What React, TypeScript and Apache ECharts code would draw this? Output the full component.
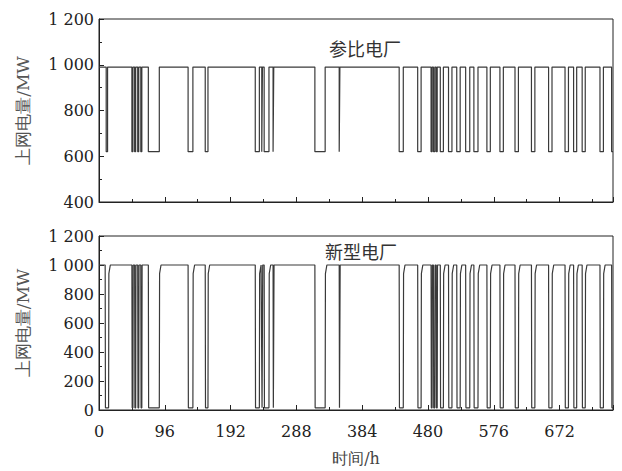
import React, { useEffect, useRef } from "react";
import * as echarts from "echarts";

// Hours axis
const X_MAX = 750;
const X_TICKS = [0, 96, 192, 288, 384, 480, 576, 672];

// Reference plant: output level (MW) when running high / low
const REF_HIGH = 990;
const REF_LOW = 620;
// Low-output intervals [start h, end h]
const refLows: [number, number][] = [
  [10.5, 12.5], [48, 49.5], [52, 53.5], [56.5, 58], [61, 62.5], [72, 88],
  [130, 137], [155, 159], [228, 234], [237.5, 238.5], [241, 248], [254, 255],
  [315, 330], [350.5, 351.5], [438, 444], [465, 470], [484.5, 486], [488, 490],
  [492, 493.5], [498, 502.5], [510, 515], [522, 527], [535, 541], [547, 553],
  [566, 571], [585, 590], [607, 612], [631, 636], [656, 661], [680, 685],
  [692.5, 697], [705, 709.5], [731, 736], [748, 750],
];

// New plant: high / near-zero levels, level reached right after restart
const NEW_HIGH = 1000;
const NEW_LOW = 15;
const NEW_RESTART = 940;
const newLows: [number, number][] = [
  [9, 14], [48, 49.5], [52, 53.5], [56.5, 58], [61, 62.5], [72, 88],
  [130, 137], [155, 159], [228, 234], [237.5, 238.5], [241, 248], [254, 255],
  [315, 330], [350.5, 351.5], [438, 444], [465, 470], [484.5, 486], [488, 490],
  [492, 493.5], [498, 502.5], [510, 515], [522, 527], [535, 541], [547, 553],
  [566, 571], [585, 590], [607, 612], [631, 636], [656, 661], [680, 685],
  [692.5, 697], [705, 709.5], [731, 736], [748, 750],
];

const Y_TOP_TICKS = [400, 600, 800, 1000, 1200];
const Y_BOT_TICKS = [0, 200, 400, 600, 800, 1000, 1200];

function buildRef(): [number, number][] {
  const pts: [number, number][] = [[0, REF_HIGH]];
  for (const [s, e] of refLows) {
    pts.push([s, REF_HIGH], [s, REF_LOW], [e, REF_LOW]);
    if (e < X_MAX) pts.push([e, REF_HIGH]);
  }
  pts.push([X_MAX, pts[pts.length - 1][1]]);
  return pts;
}

function buildNew(): [number, number][] {
  const pts: [number, number][] = [[0, NEW_HIGH]];
  for (const [s, e] of newLows) {
    pts.push([s, NEW_HIGH], [s + 0.4, NEW_LOW], [e, NEW_LOW]);
    if (e < X_MAX) {
      if (e - s > 3) {
        pts.push([e + 0.4, NEW_RESTART], [e + 2.5, NEW_HIGH]);
      } else {
        pts.push([e + 0.4, NEW_HIGH]);
      }
    }
  }
  pts.push([X_MAX, pts[pts.length - 1][1]]);
  return pts;
}

const fmtY = (v: number) =>
  v >= 1000 ? `${Math.floor(v / 1000)} ${String(v % 1000).padStart(3, "0")}` : String(v);

const SERIF = "DejaVu Serif";
const CJK = "Noto Sans CJK SC";
const AX = "#222";

export default function App() {
  const ref = useRef<HTMLDivElement>(null);
  useEffect(() => {
    if (!ref.current) return;
    const chart = echarts.init(ref.current, undefined, { renderer: "svg" });
    const xAxisBase = (idx: number, showLabels: boolean) => ({
      type: "value",
      gridIndex: idx,
      min: 0,
      max: X_MAX,
      interval: 96,
      axisLine: { show: true, onZero: false, lineStyle: { color: AX, width: 1 } },
      axisTick: { show: true, inside: true, length: 5, lineStyle: { color: AX } },
      minorTick: { show: true, splitNumber: 2, length: 3, lineStyle: { color: AX } },
      splitLine: { show: false },
      axisLabel: {
        show: showLabels,
        showMaxLabel: false,
        margin: 13,
        color: AX,
        fontSize: 16,
        fontFamily: SERIF,
        formatter: (v: number) => (X_TICKS.includes(v) ? String(v) : ""),
      },
      name: showLabels ? "时间/h" : "",
      nameLocation: "middle",
      nameGap: 40,
      nameTextStyle: { color: "#444", fontSize: 16, fontFamily: SERIF },
    });
    const yAxisBase = (idx: number, ticks: number[]) => ({
      type: "value",
      gridIndex: idx,
      min: ticks[0],
      max: ticks[ticks.length - 1],
      interval: 200,
      axisLine: { show: true, lineStyle: { color: AX, width: 1 } },
      axisTick: { show: true, inside: true, length: 5, lineStyle: { color: AX } },
      minorTick: { show: true, splitNumber: 2, length: 3, lineStyle: { color: AX } },
      splitLine: { show: false },
      axisLabel: {
        margin: 5,
        color: AX,
        fontSize: 16,
        fontFamily: SERIF,
        formatter: (v: number) => (ticks.includes(v) ? fmtY(v) : ""),
      },
      name: "上网电量/MW",
      nameLocation: "middle",
      nameGap: 68,
      nameTextStyle: { color: "#555", fontSize: 17, fontFamily: SERIF },
    });
    chart.setOption({
      animation: false,
      backgroundColor: "#fff",
      title: [
        {
          text: "参比电厂",
          left: 360,
          top: 34,
          textAlign: "center",
          textStyle: { fontSize: 18, fontWeight: "normal", color: "#333", fontFamily: CJK },
        },
        {
          text: "新型电厂",
          left: 356,
          top: 237,
          textAlign: "center",
          textStyle: { fontSize: 18, fontWeight: "normal", color: "#333", fontFamily: CJK },
        },
      ],
      grid: [
        {
          left: 99, right: 9, top: 19, height: 183, show: true, borderColor: AX, borderWidth: 1,
          outerBoundsMode: "none", containLabel: false,
        },
        {
          left: 99, right: 9, top: 236, height: 174, show: true, borderColor: AX, borderWidth: 1,
          outerBoundsMode: "none", containLabel: false,
        },
      ],
      xAxis: [xAxisBase(0, false), xAxisBase(1, true)],
      yAxis: [yAxisBase(0, Y_TOP_TICKS), yAxisBase(1, Y_BOT_TICKS)],
      series: [
        {
          type: "line",
          xAxisIndex: 0,
          yAxisIndex: 0,
          data: buildRef(),
          showSymbol: false,
          lineStyle: { color: "#3a3a3a", width: 1.2 },
        },
        {
          type: "line",
          xAxisIndex: 1,
          yAxisIndex: 1,
          data: buildNew(),
          showSymbol: false,
          lineStyle: { color: "#3a3a3a", width: 1.2 },
        },
      ],
    });
    return () => chart.dispose();
  }, []);
  return (
    <div
      ref={ref}
      style={{ position: "absolute", left: 0, top: 0, width: 622, height: 471, background: "#fff" }}
    />
  );
}
